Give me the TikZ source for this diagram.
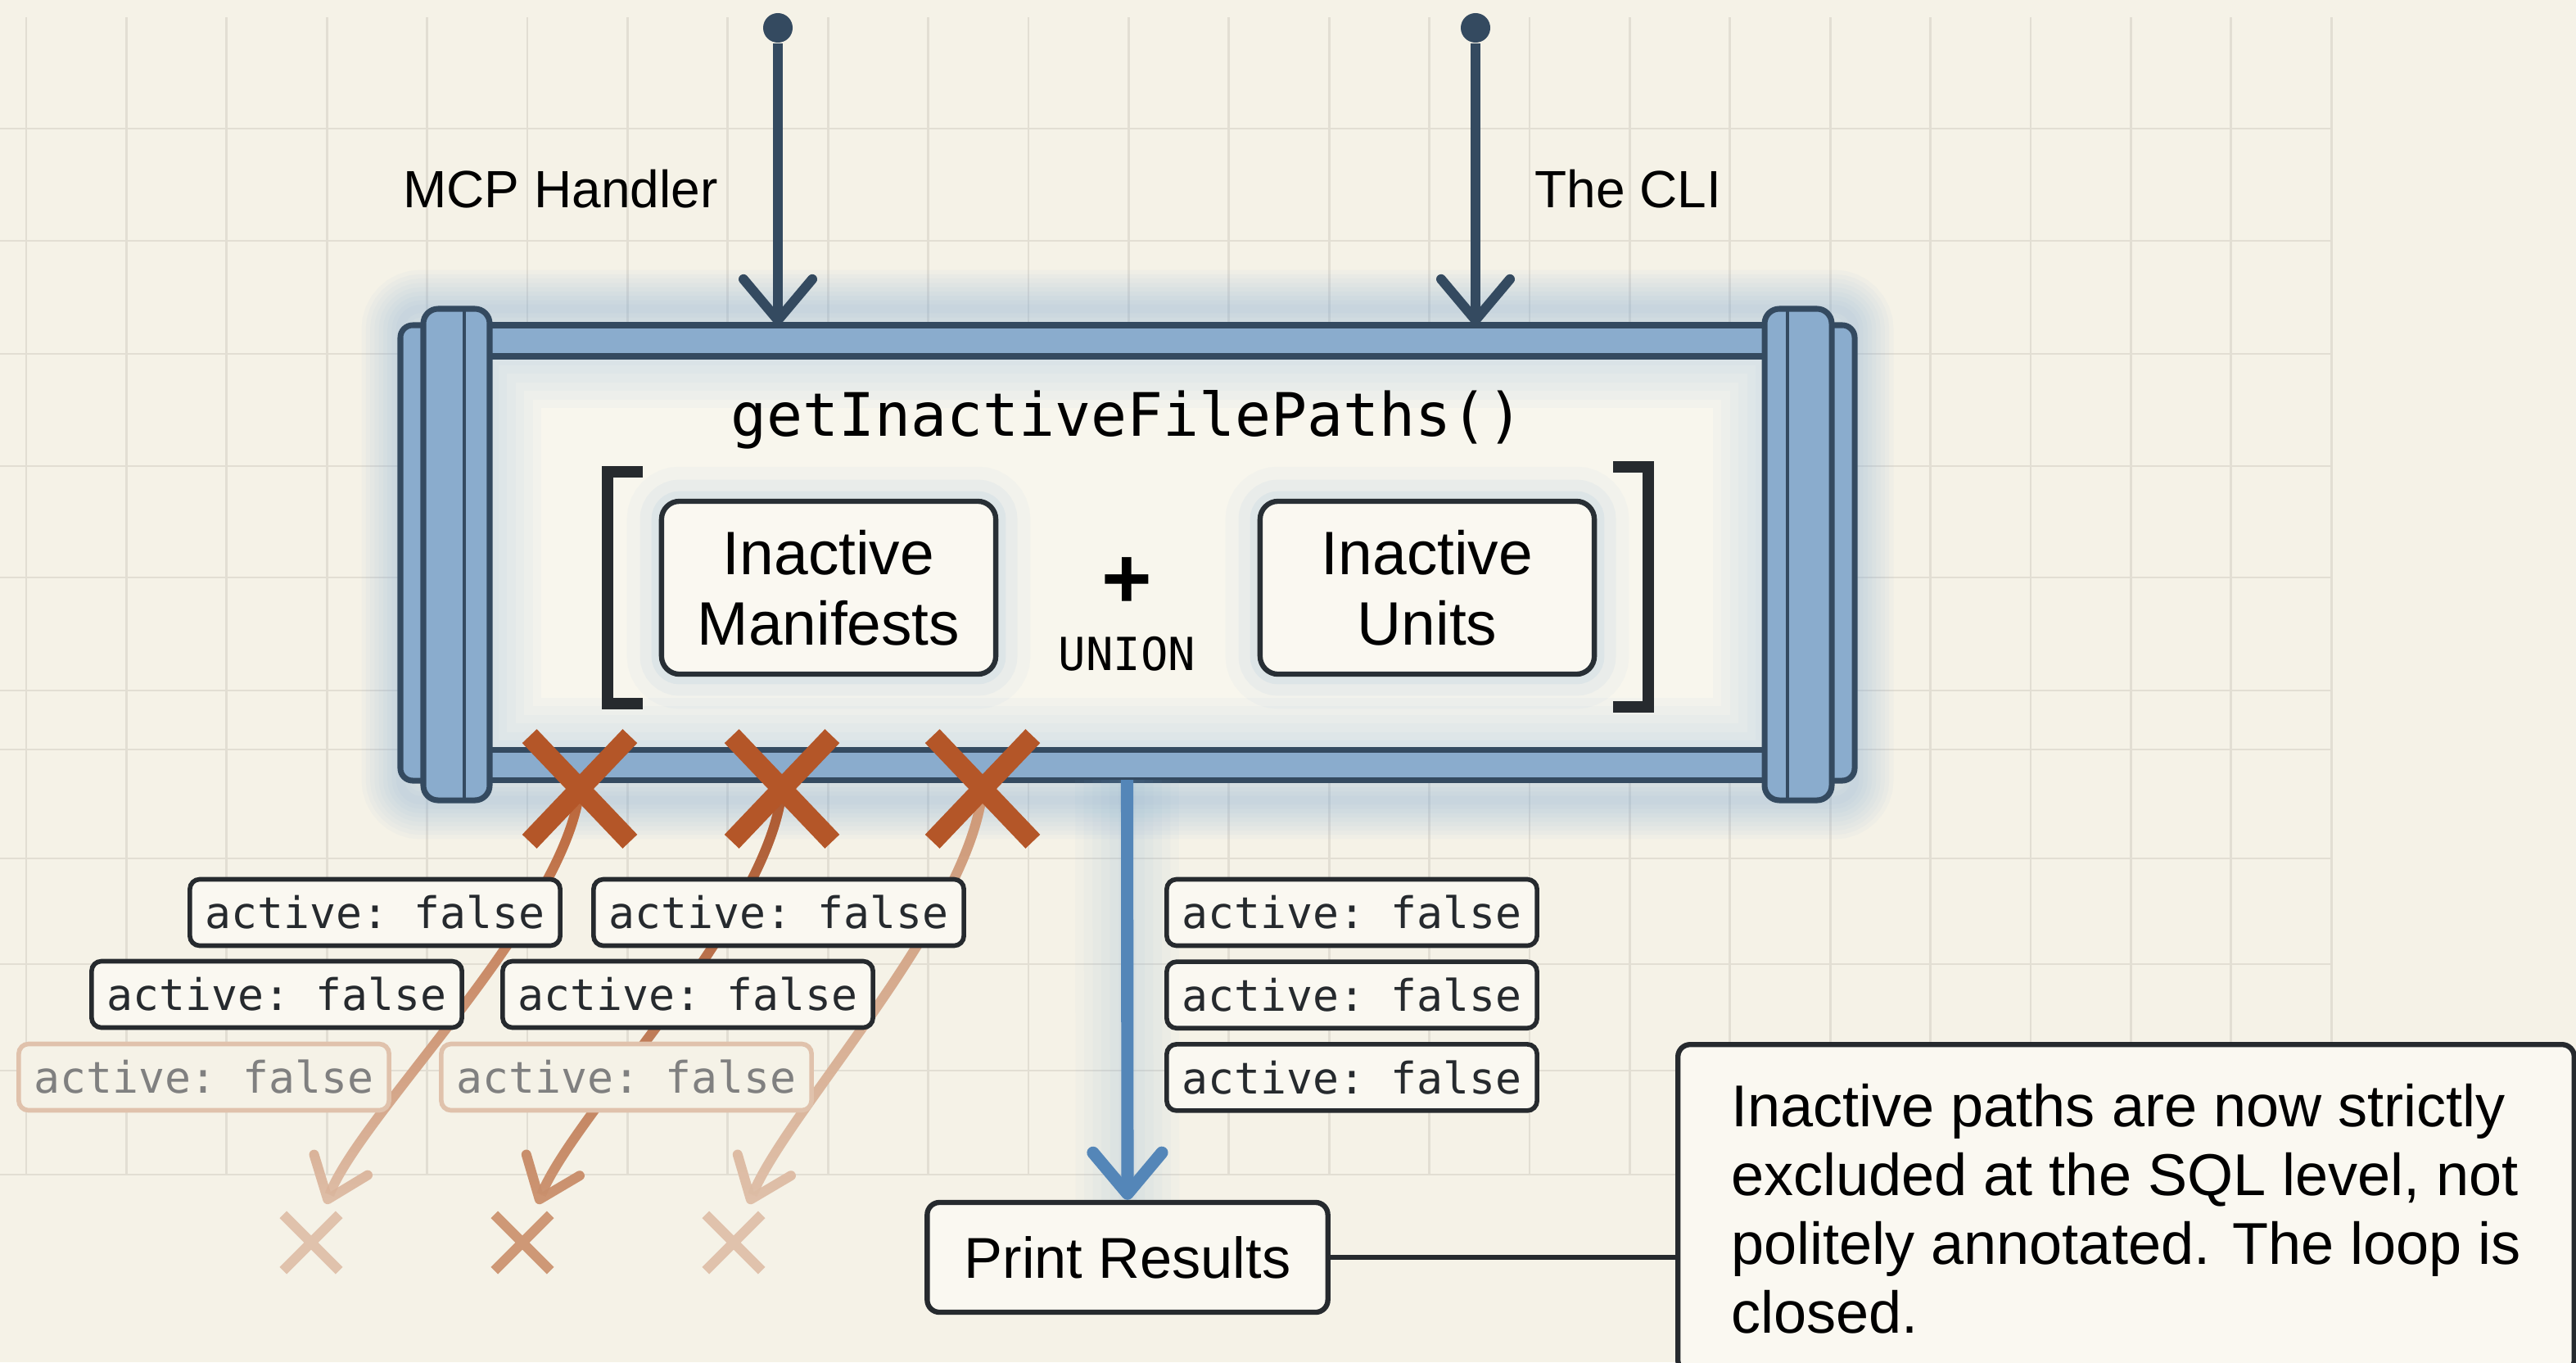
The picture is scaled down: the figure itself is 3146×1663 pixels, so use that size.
\documentclass[tikz,border=0pt]{standalone}
\usepackage{fontspec}
\setmainfont{Liberation Sans}
\setmonofont{DejaVu Sans Mono}
\usetikzlibrary{arrows.meta,positioning,shapes.misc,fadings}

\definecolor{paper}{RGB}{245,242,231}
\definecolor{panel}{RGB}{248,246,237}
\definecolor{boxfill}{RGB}{250,248,241}
\definecolor{gridline}{RGB}{226,222,211}
\definecolor{pipeblue}{RGB}{138,172,205}
\definecolor{pipeedge}{RGB}{52,74,96}
\definecolor{glowblue}{RGB}{120,168,214}
\definecolor{flowblue}{RGB}{84,134,184}
\definecolor{ink}{RGB}{38,42,46}
\definecolor{rust}{RGB}{180,86,40}
\definecolor{rusttrail}{RGB}{186,100,55}
\definecolor{rustdeep}{RGB}{172,88,48}
\definecolor{tanlight}{RGB}{224,194,172}
\definecolor{tanmid}{RGB}{206,152,118}

\pgfdeclarelayer{bg}
\pgfdeclarelayer{wires}
\pgfsetlayers{bg,wires,main}

\tikzset{
  pipepart/.style={fill=pipeblue, draw=pipeedge, line width=2pt},
  srcdot/.style={circle, fill=pipeedge, inner sep=0pt, minimum size=0.36cm},
  feedarrow/.style={pipeedge, line width=3.4pt, -{Straight Barb[length=0.5cm, width=0.84cm, round]}},
  flowarrow/.style={flowblue, line width=4.3pt, -{Straight Barb[length=0.5cm, width=0.84cm, round]}},
  trail/.style={line width=3.4pt, shorten >=0.14cm, -{Straight Barb[length=0.45cm, width=0.7cm, round]}},
  brkt/.style={ink, line width=4pt, line join=miter},
  srcbox/.style={draw=ink!85!pipeedge, line width=1.8pt, rounded corners=0.22cm, fill=boxfill, align=center,
    minimum width=4.08cm, minimum height=2.11cm, font=\fontsize{21.3}{24.5}\selectfont,
    preaction={draw=glowblue, line width=24pt, opacity=0.045},
    preaction={draw=glowblue, line width=15pt, opacity=0.07},
    preaction={draw=glowblue, line width=7pt, opacity=0.1}},
  flag/.style={draw=ink, line width=1.6pt, rounded corners=0.12cm, fill=boxfill, text=ink,
    minimum width=4.52cm, minimum height=0.81cm, inner sep=0pt, font=\fontsize{15.1}{17}\selectfont\ttfamily},
  fadedflag/.style={flag, draw=tanlight, text=black!50, fill=paper},
  bigx/.style={cross out, draw=rust, line width=7pt, minimum width=0.98cm, minimum height=1.04cm, inner sep=0pt},
  smallx/.style={cross out, line width=3.5pt, minimum size=0.56cm, inner sep=0pt},
  prbox/.style={draw=ink, line width=1.8pt, rounded corners=0.15cm, fill=boxfill,
    minimum width=4.89cm, minimum height=1.34cm, font=\fontsize{20}{24}\selectfont},
  notebox/.style={draw=ink, line width=1.8pt, rounded corners=0.15cm, fill=boxfill, align=left,
    inner xsep=0pt, minimum width=10.94cm, minimum height=4cm,
    font=\fontsize{20.5}{23.9}\selectfont}
}

\begin{document}
\begin{tikzpicture}[x=0.01cm, y=-0.01cm]
  \useasboundingbox (0,0) rectangle (3146,1663);

  % paper, grid and the pipe
  \begin{pgfonlayer}{bg}
    \fill[paper] (0,0) rectangle (3146,1663);
    \foreach \k in {0,...,23}
      \draw[gridline, line width=0.8pt] ({32+122.4*\k},21) -- ({32+122.4*\k},1434);
    \foreach \gy in {157,294,432,569,705,843,915,1048,1177,1307,1434}
      \draw[gridline, line width=0.8pt] (0,\gy) -- (2847,\gy);
    \foreach \w in {3,6,...,27}
      \draw[glowblue, opacity=0.045, line width=\w pt, rounded corners=0.25cm] (489,377) rectangle (2265,977);
    \fill[panel] (598,435) rectangle (2155,915);
    \begin{scope}
      \clip (598,435) rectangle (2155,915);
      \foreach \w in {6,12,...,36}
        \draw[glowblue, opacity=0.04, line width=\w pt] (598,435) rectangle (2155,915);
    \end{scope}
    \draw[pipepart] (590,397) rectangle (2163,435);
    \draw[pipepart] (590,915) rectangle (2163,952);
    \draw[pipepart, rounded corners=0.15cm] (489,397) rectangle (540,953);
    \draw[pipepart, rounded corners=0.15cm] (2214,397) rectangle (2265,953);
    \draw[pipepart, rounded corners=0.18cm] (517,377) rectangle (598,977);
    \draw[pipepart, rounded corners=0.18cm] (2155,377) rectangle (2237,977);
    \draw[pipeedge, line width=1.3pt] (567,377) -- (567,977) (2183,377) -- (2183,977);
  \end{pgfonlayer}
  \node[inner sep=0pt, outer sep=0pt, minimum width=15.73cm, minimum height=5.55cm] (tube) at (1376.5,674.5) {};

  % callers
  \node[srcdot] (mcpdot) at (950,34) {};
  \node[srcdot] (clidot) at (1802,34) {};
  \node[anchor=east, font=\fontsize{18.2}{22}\selectfont] (mcplbl) at (889,231) {MCP Handler};
  \node[anchor=west, font=\fontsize{18.2}{22}\selectfont] (clilbl) at (1862,231) {The CLI};
  \draw[feedarrow] (mcpdot) -- (mcpdot |- tube.north);
  \draw[feedarrow] (clidot) -- (clidot |- tube.north);

  % inside the pipe
  \node[font=\fontsize{20.8}{24}\selectfont\ttfamily] (fname) at (1376.5,512) {getInactiveFilePaths()};
  \node[srcbox] (manif) at (1012,717.5) {Inactive\\Manifests};
  \node[srcbox] (units) at (1743,717.5) {Inactive\\Units};
  \node[font=\fontsize{30}{30}\selectfont\bfseries] (plus) at (1376.5,712) {+};
  \node[font=\fontsize{15.8}{18}\selectfont\ttfamily] (union) at (1376.5,798) {UNION};
  \draw[brkt] (785,576) -| (742,859) -- (785,859);
  \draw[brkt] (1970,570) -| (2013,863) -- (1970,863);

  % rejected rows
  \node[bigx] (xa) at (708,963) {};
  \node[bigx] (xb) at (955,963) {};
  \node[bigx] (xc) at (1200,963) {};
  \node[smallx, draw=tanlight] (ya) at (380,1517) {};
  \node[smallx, draw=tanmid] (yb) at (638,1517) {};
  \node[smallx, draw=tanlight] (yc) at (896,1517) {};
  \node[flag] (fa1) at (458,1114) {active: false};
  \node[flag] (fb1) at (951,1114) {active: false};
  \node[flag] (fa2) at (338,1214) {active: false};
  \node[flag] (fb2) at (840,1214) {active: false};
  \node[fadedflag] (fa3) at (249,1315) {active: false};
  \node[fadedflag] (fb3) at (765,1315) {active: false};

  % kept rows
  \node[flag] (fc1) at (1651,1114) {active: false};
  \node[flag, below=0.14cm of fc1] (fc2) {active: false};
  \node[flag, below=0.14cm of fc2] (fc3) {active: false};
  \node[prbox] (prn) at (1377,1535) {Print Results};
  \node[notebox, anchor=north west] (note) at (2046,1272)
    {Inactive paths are now strictly\\excluded at the SQL level, not\\politely annotated. The loop is\\closed.};
  \draw[flowarrow] (tube.south) -- (prn.north);
  \draw[ink, line width=1.8pt] (prn.east) -- (prn.east -| note.west);

  \begin{pgfonlayer}{wires}
    \foreach \w in {6,12,...,36}
      \draw[glowblue, opacity=0.04, line width=\w pt] (tube.south) -- (prn.north);
    \draw[trail, tanlight] (xa.center) .. controls (690,1120) and (440,1360) .. (ya);
    \draw[trail, rusttrail, path fading=south] (xa.center) .. controls (690,1120) and (440,1360) .. (ya);
    \draw[trail, tanmid] (xb.center) .. controls (940,1120) and (700,1360) .. (yb);
    \draw[trail, rustdeep, path fading=south] (xb.center) .. controls (940,1120) and (700,1360) .. (yb);
    \draw[trail, tanlight] (xc.center) .. controls (1185,1120) and (958,1360) .. (yc);
    \draw[trail, tanmid, path fading=south] (xc.center) .. controls (1185,1120) and (958,1360) .. (yc);
  \end{pgfonlayer}
\end{tikzpicture}
\end{document}
